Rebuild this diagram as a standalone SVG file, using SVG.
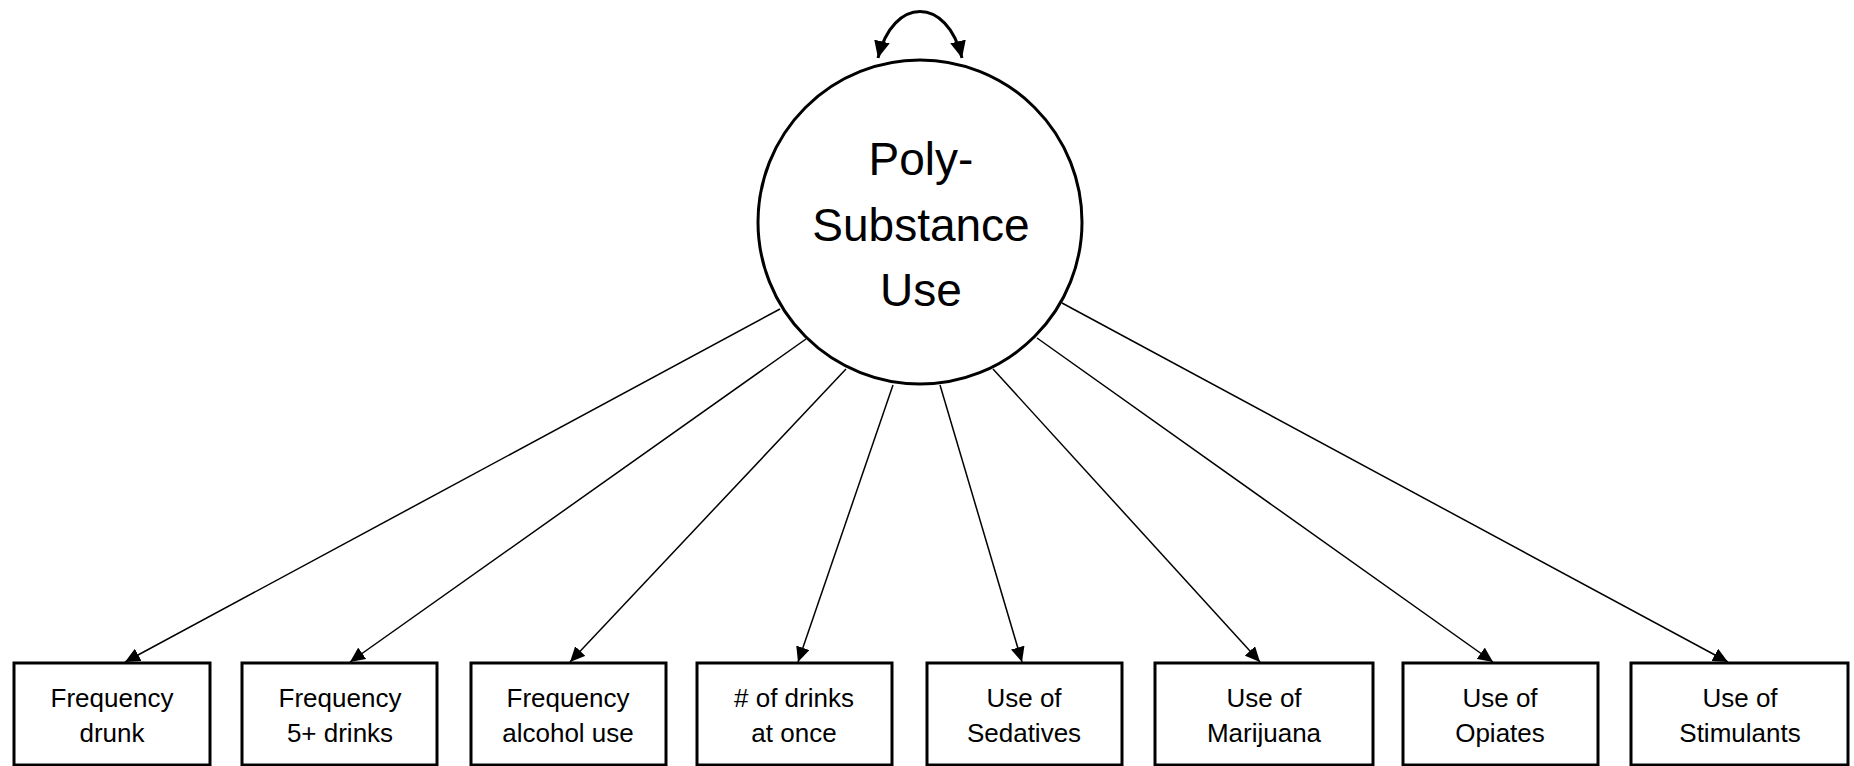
<svg xmlns="http://www.w3.org/2000/svg" width="1854" height="766" viewBox="0 0 1854 766">
<style>
.box{fill:#fff;stroke:#000;stroke-width:3}
.lbl{font-family:"Liberation Sans",Arial,sans-serif;font-size:26px;fill:#000;text-anchor:middle}
.big{font-family:"Liberation Sans",Arial,sans-serif;font-size:46px;fill:#000;text-anchor:middle}
.ln{stroke:#000;stroke-width:1.5;fill:none;marker-end:url(#ah)}
</style>
<defs>
<marker id="ah" markerUnits="userSpaceOnUse" markerWidth="16" markerHeight="14" refX="15" refY="7" orient="auto">
<path d="M0,0 L15,7 L0,14 z" fill="#000"/>
</marker>
<marker id="ah2" markerUnits="userSpaceOnUse" markerWidth="18" markerHeight="16" refX="17" refY="8" orient="auto-start-reverse">
<path d="M0,0 L17,8 L0,16 z" fill="#000"/>
</marker>
</defs>
<g id="connectors">
<path d="M878 58 C893 -4 947 -4 962 58" stroke="#000" stroke-width="3" fill="none" marker-start="url(#ah2)" marker-end="url(#ah2)"/>
<line class="ln" x1="780" y1="309" x2="125" y2="662"/>
<line class="ln" x1="806" y1="339" x2="350" y2="662"/>
<line class="ln" x1="846" y1="369" x2="570" y2="662"/>
<line class="ln" x1="893" y1="385" x2="798" y2="662"/>
<line class="ln" x1="940" y1="385" x2="1022" y2="662"/>
<line class="ln" x1="993" y1="369" x2="1260" y2="662"/>
<line class="ln" x1="1037" y1="338" x2="1493" y2="662"/>
<line class="ln" x1="1062" y1="303" x2="1728" y2="662"/>
</g>
<g id="latent">
<circle cx="920" cy="222" r="162" fill="#fff" stroke="#000" stroke-width="3"/>
<text class="big" x="921" y="175">Poly-</text>
<text class="big" x="921" y="241">Substance</text>
<text class="big" x="921" y="306">Use</text>
</g>
<g id="n1"><rect class="box" x="14" y="663" width="196" height="102"/><text class="lbl" x="112" y="707">Frequency</text><text class="lbl" x="112" y="742">drunk</text></g>
<g id="n2"><rect class="box" x="242" y="663" width="195" height="102"/><text class="lbl" x="340" y="707">Frequency</text><text class="lbl" x="340" y="742">5+ drinks</text></g>
<g id="n3"><rect class="box" x="471" y="663" width="195" height="102"/><text class="lbl" x="568" y="707">Frequency</text><text class="lbl" x="568" y="742">alcohol use</text></g>
<g id="n4"><rect class="box" x="697" y="663" width="195" height="102"/><text class="lbl" x="794" y="707"># of drinks</text><text class="lbl" x="794" y="742">at once</text></g>
<g id="n5"><rect class="box" x="927" y="663" width="195" height="102"/><text class="lbl" x="1024" y="707">Use of</text><text class="lbl" x="1024" y="742">Sedatives</text></g>
<g id="n6"><rect class="box" x="1155" y="663" width="218" height="102"/><text class="lbl" x="1264" y="707">Use of</text><text class="lbl" x="1264" y="742">Marijuana</text></g>
<g id="n7"><rect class="box" x="1403" y="663" width="195" height="102"/><text class="lbl" x="1500" y="707">Use of</text><text class="lbl" x="1500" y="742">Opiates</text></g>
<g id="n8"><rect class="box" x="1631" y="663" width="217" height="102"/><text class="lbl" x="1740" y="707">Use of</text><text class="lbl" x="1740" y="742">Stimulants</text></g>
</svg>
